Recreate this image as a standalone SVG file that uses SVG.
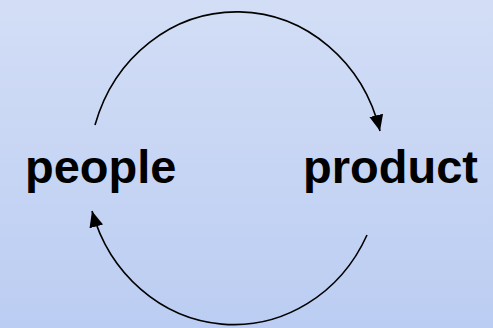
<svg xmlns="http://www.w3.org/2000/svg" width="493" height="328" viewBox="0 0 493 328">
<defs>
<linearGradient id="bg" x1="0" y1="0" x2="0" y2="1">
<stop offset="0" stop-color="#D3DEF6"/>
<stop offset="1" stop-color="#BBCDF2"/>
</linearGradient>
<marker id="ah" markerUnits="userSpaceOnUse" markerWidth="18" markerHeight="16" refX="16" refY="7" orient="auto">
<path d="M0,0 L16,7 L0,14 z" fill="#000"/>
</marker>
<style>
.lbl{font-family:"Liberation Sans",Arial,sans-serif;font-weight:bold;font-size:47px;fill:#000}
.arc{fill:none;stroke:#000;stroke-width:1.6;marker-end:url(#ah)}
</style>
</defs>
<rect width="493" height="328" fill="url(#bg)"/>
<g id="connectors">
<path class="arc" d="M95,125 A148,159 0 0 1 380,131"/>
<path class="arc" d="M367,235 A148,159 0 0 1 92,211"/>
</g>
<g id="people"><text class="lbl" x="25" y="183">people</text></g>
<g id="product"><text class="lbl" x="303" y="183">product</text></g>
</svg>
